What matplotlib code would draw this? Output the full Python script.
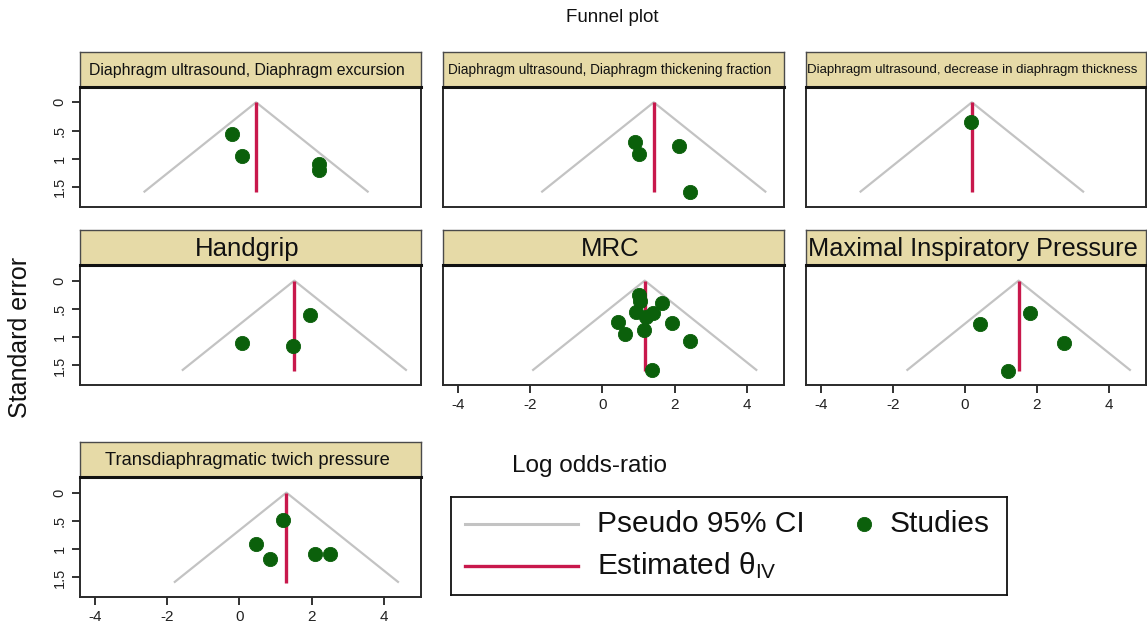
import matplotlib
matplotlib.use("Agg")
import matplotlib.pyplot as plt
from matplotlib.lines import Line2D

plt.rcParams['font.family'] = ['Liberation Sans', 'DejaVu Sans']
plt.rcParams['mathtext.fontset'] = 'custom'
plt.rcParams['mathtext.rm'] = 'Liberation Sans'
plt.rcParams['mathtext.it'] = 'Liberation Sans'

# ---- data: log odds-ratio and standard error of each study, per outcome ----
titles = [
    "Diaphragm ultrasound, Diaphragm excursion",
    "Diaphragm ultrasound, Diaphragm thickening fraction",
    "Diaphragm ultrasound, decrease in diaphragm thickness",
    "Handgrip",
    "MRC",
    "Maximal Inspiratory Pressure",
    "Transdiaphragmatic twich pressure",
]

excursion_lor = [-0.21, 0.07, 2.20, 2.20]
excursion_se = [0.56, 0.95, 1.09, 1.20]

thickening_lor = [0.91, 1.00, 2.11, 2.42]
thickening_se = [0.71, 0.91, 0.77, 1.59]

thickness_lor = [0.17]
thickness_se = [0.35]

handgrip_lor = [1.96, 0.07, 1.47]
handgrip_se = [0.61, 1.11, 1.15]

mrc_lor = [1.02, 1.05, 1.64, 0.93, 1.41, 1.20, 0.43, 1.92, 0.62, 1.16, 2.42, 1.36]
mrc_se = [0.25, 0.36, 0.39, 0.55, 0.58, 0.65, 0.73, 0.75, 0.94, 0.87, 1.07, 1.58]

mip_lor = [1.81, 0.43, 2.76, 1.19]
mip_se = [0.58, 0.76, 1.11, 1.59]

tdp_lor = [1.20, 0.45, 0.85, 2.08, 2.50]
tdp_se = [0.49, 0.90, 1.18, 1.08, 1.08]

# pooled (inverse-variance) estimate per outcome
theta_iv = [0.46, 1.42, 0.19, 1.52, 1.17, 1.49, 1.30]

lor_sets = [excursion_lor, thickening_lor, thickness_lor, handgrip_lor,
            mrc_lor, mip_lor, tdp_lor]
se_sets = [excursion_se, thickening_se, thickness_se, handgrip_se,
           mrc_se, mip_se, tdp_se]

x_ticks = [-4, -2, 0, 2, 4]
y_ticks = [0, 0.5, 1, 1.5]
y_tick_labels = ["0", ".5", "1", "1.5"]

# ---- styling ----
W, H = 1147, 631
STRIP = "#E6DAA7"
GREEN = "#0B600B"
CRIMSON = "#C8184C"
GREY = "#C3C3C3"
FRAME = "#2a2a2a"

cols_px = [(80, 421), (443, 784), (806, 1146)]
rows_plot_px = [(86.7, 206.7), (265, 385), (477, 597)]
rows_strip_px = [(51.7, 86.7), (230, 265), (442, 477)]

# (row, col, show_y, show_x, title fontsize)
panel_layout = [
    (0, 0, True, False, 11.4),
    (0, 1, False, False, 9.8),
    (0, 2, False, False, 9.5),
    (1, 0, True, False, 18.5),
    (1, 1, False, True, 18.5),
    (1, 2, False, True, 18.3),
    (2, 0, True, True, 13.2),
]

se_max = max(max(s) for s in se_sets)
z95 = 1.96


def px_rect(x0, x1, y0, y1):
    return [x0 / W, 1 - y1 / H, (x1 - x0) / W, (y1 - y0) / H]


fig = plt.figure(figsize=(W / 100, H / 100), dpi=100)

for i, (r, c, show_y, show_x, tfs) in enumerate(panel_layout):
    x0, x1 = cols_px[c]
    py0, py1 = rows_plot_px[r]
    sy0, sy1 = rows_strip_px[r]

    # title strip
    sax = fig.add_axes(px_rect(x0, x1, sy0, sy1))
    sax.set_facecolor(STRIP)
    sax.set_xticks([])
    sax.set_yticks([])
    for sp in sax.spines.values():
        sp.set_color("#4a4a4a")
        sp.set_linewidth(1.0)
    sax.text(0.49, 0.47, titles[i], ha="center", va="center",
             fontsize=tfs, color="#111111", transform=sax.transAxes)

    # funnel panel
    ax = fig.add_axes(px_rect(x0, x1, py0, py1))
    th = theta_iv[i]
    ax.plot([th - z95 * se_max, th, th + z95 * se_max], [se_max, 0, se_max],
            color=GREY, lw=1.6, zorder=1, solid_capstyle="butt")
    ax.plot([th, th], [0, se_max], color=CRIMSON, lw=2.4, zorder=2,
            solid_capstyle="butt")
    ax.scatter(lor_sets[i], se_sets[i], s=105, color=GREEN, edgecolors=GREEN,
               linewidths=0.6, zorder=3)

    ax.set_xlim(-4.42, 5.03)
    ax.set_ylim(1.845, -0.276)

    for name, sp in ax.spines.items():
        sp.set_color(FRAME)
        sp.set_linewidth(1.4)
    ax.spines["top"].set_linewidth(2.2)
    ax.spines["top"].set_color("#111111")

    if show_y:
        ax.set_yticks(y_ticks)
        ax.set_yticklabels(y_tick_labels, rotation=90, va="center",
                           fontsize=10.5, color="#222222")
        ax.tick_params(axis="y", length=5.5, width=1.3, pad=4, colors="#222222")
    else:
        ax.set_yticks([])
    if show_x:
        ax.set_xticks(x_ticks)
        ax.set_xticklabels([str(v) for v in x_ticks], fontsize=11,
                           color="#222222")
        ax.tick_params(axis="x", length=5.5, width=1.3, pad=4, colors="#222222")
    else:
        ax.set_xticks([])

# overall titles
fig.text(612 / W, 1 - 18 / H, "Funnel plot", ha="center", va="center",
         fontsize=13.5, color="#111111")
fig.text(20 / W, 1 - 337 / H, "Standard error", ha="center", va="center",
         rotation=90, fontsize=18, color="#111111")
fig.text(589 / W, 1 - 466 / H, "Log odds-ratio", ha="center", va="center",
         fontsize=17.5, color="#111111")

# legend box
lx0, lx1, ly0, ly1 = 451, 1007, 497, 595
lax = fig.add_axes(px_rect(lx0, lx1, ly0, ly1))
lax.set_xlim(lx0, lx1)
lax.set_ylim(ly1, ly0)
lax.set_xticks([])
lax.set_yticks([])
for sp in lax.spines.values():
    sp.set_color("#111111")
    sp.set_linewidth(1.3)
lax.add_line(Line2D([465, 578], [524, 524], color=GREY, lw=2.2))
lax.text(597, 524, "Pseudo 95% CI", va="center", ha="left", fontsize=21.5,
         color="#111111")
lax.add_line(Line2D([465, 578], [566, 566], color=CRIMSON, lw=2.4))
lax.text(597, 566, r"Estimated θ$_{\mathrm{IV}}$", va="center", ha="left",
         fontsize=21.5, color="#111111")
lax.scatter([864], [524], s=105, color=GREEN, edgecolors=GREEN, linewidths=0.6)
lax.text(890, 524, "Studies", va="center", ha="left", fontsize=21.5,
         color="#111111")

fig.savefig("out.png", dpi=100)
